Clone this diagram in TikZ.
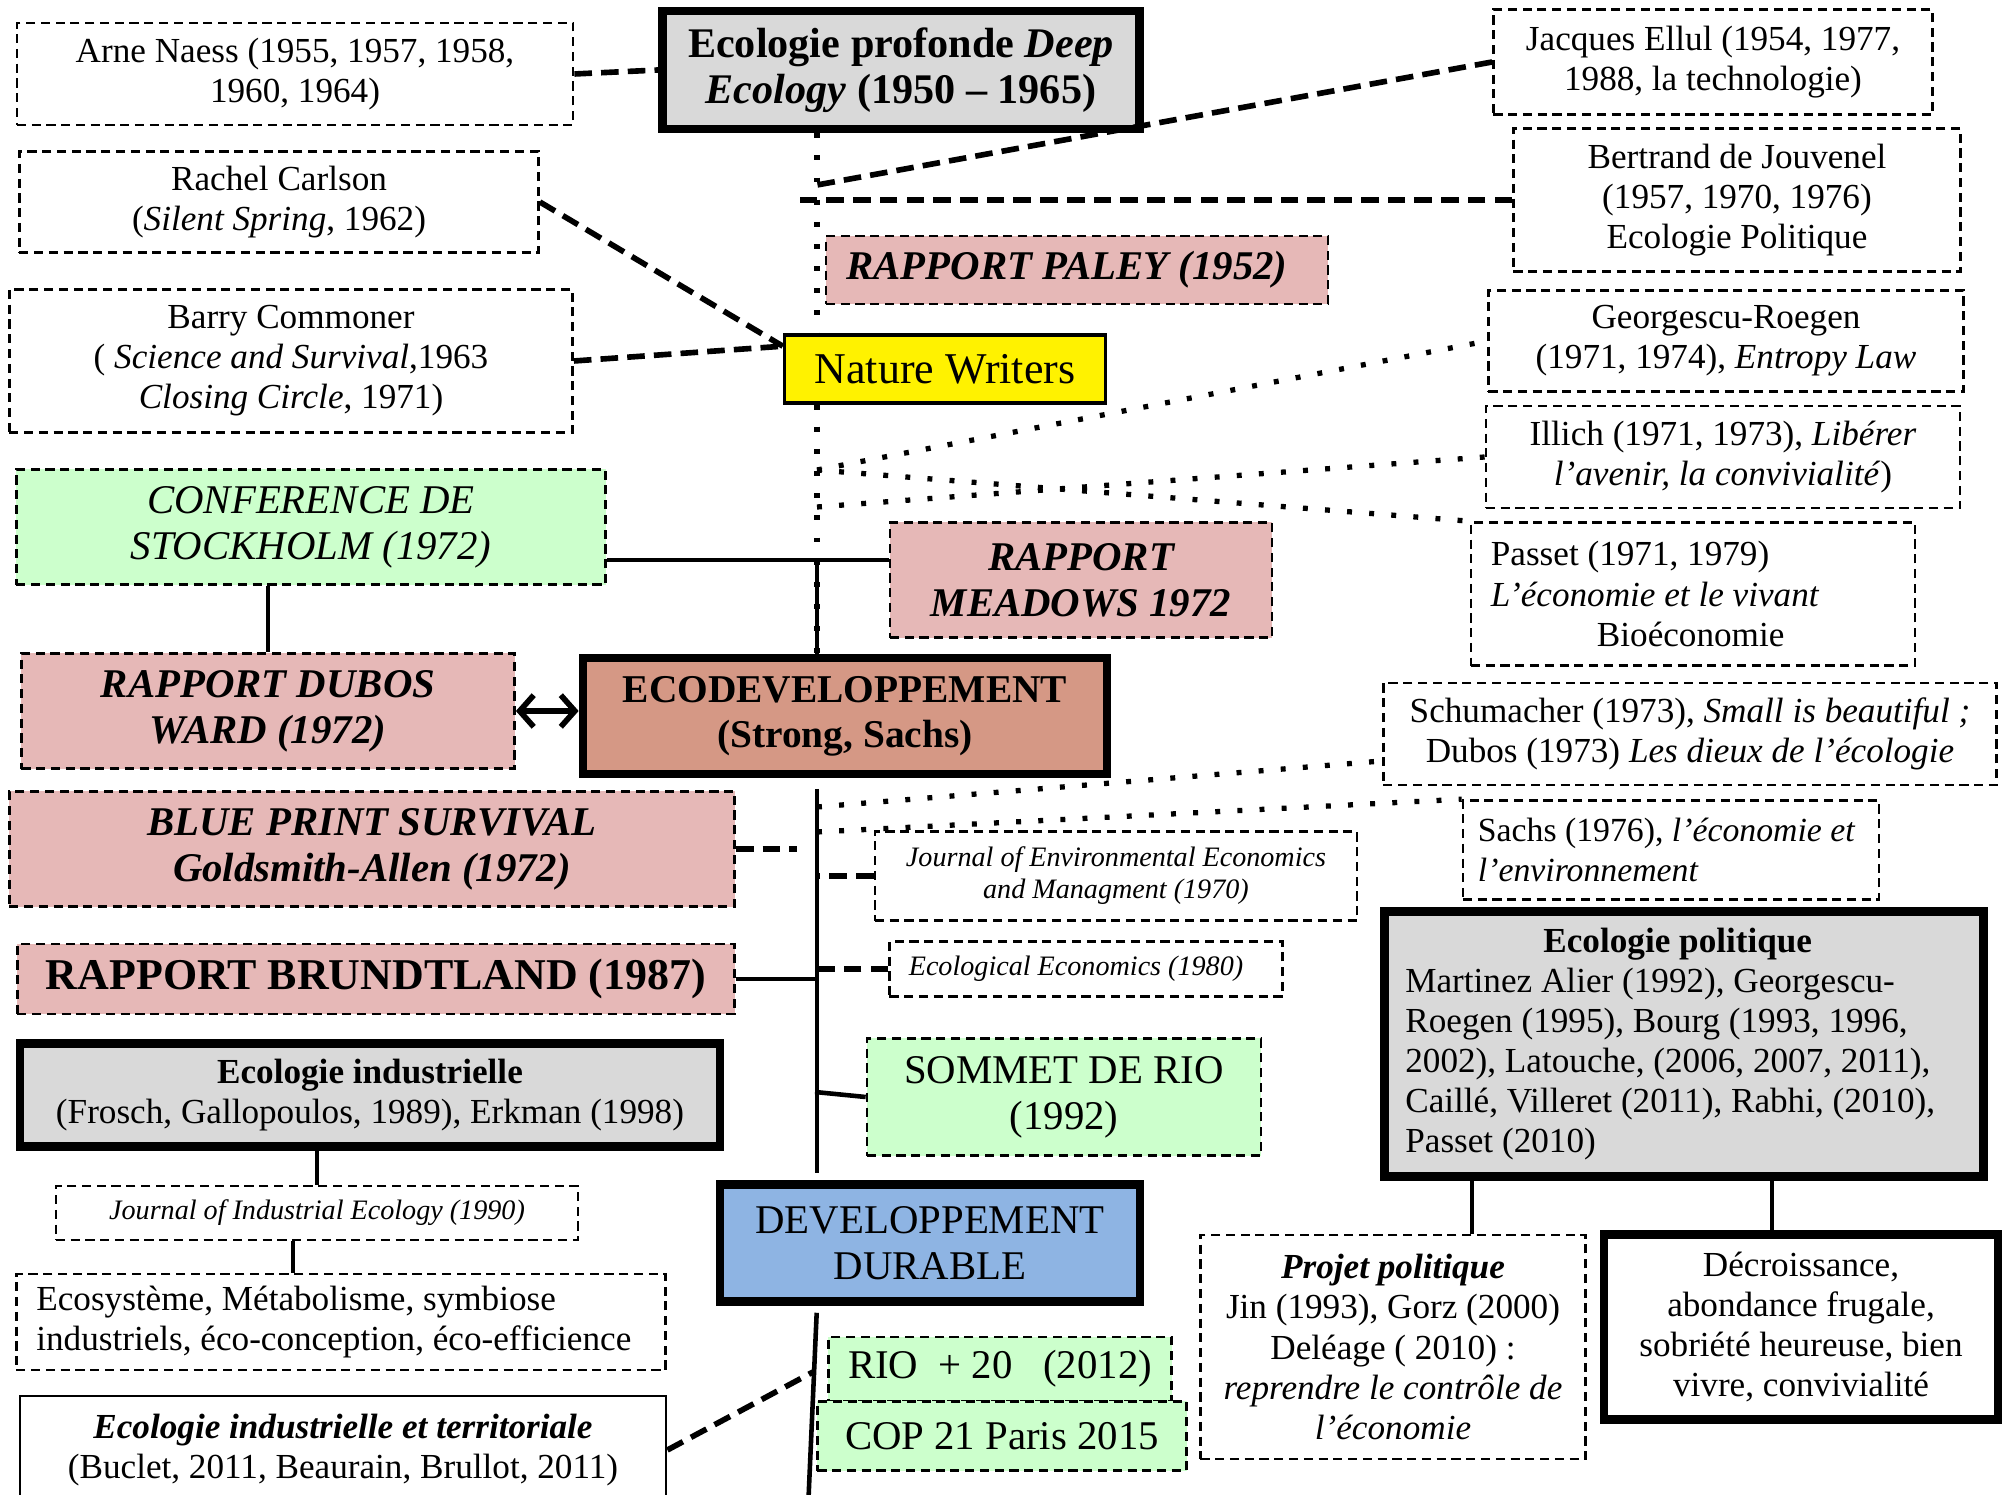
\documentclass[tikz,border=0pt]{standalone}
\usepackage{fontspec}
\setmainfont{Liberation Serif}
\usepackage{tikz}
\usetikzlibrary{arrows.meta}

\definecolor{rosecol}{RGB}{230,184,183}
\definecolor{vertcol}{RGB}{204,255,204}
\definecolor{griscol}{RGB}{217,217,217}
\definecolor{briquecol}{RGB}{213,152,133}
\definecolor{bleucol}{RGB}{142,180,227}

\begin{document}
\begin{tikzpicture}[x=0.01cm, y=-0.01cm,
    every node/.style={align=center, inner sep=0pt, font=\fontsize{10}{11.4}\selectfont},
    box/.style={draw, dash pattern=on 2.6pt off 1.6pt, line width=0.7pt, fill=white},
    heavy/.style={draw, line width=2.4pt},
    rapport/.style={box, fill=rosecol, font=\fontsize{11.6}{13.1}\selectfont\bfseries\itshape},
    sommet/.style={box, fill=vertcol, font=\fontsize{11.6}{13.1}\selectfont},
    journal/.style={box, font=\fontsize{8}{9.1}\selectfont\itshape},
    dashlink/.style={line width=1.6pt, dash pattern=on 5pt off 2.6pt},
    dotlink/.style={line width=1.5pt, dash pattern=on 1.4pt off 4.9pt},
    link/.style={line width=1.3pt}]
\useasboundingbox (0,0) rectangle (2002,1495);

% HAUT : ECOLOGIE PROFONDE
\node[box, minimum width=5.56cm, minimum height=1.02cm] (naess) at (295,74) {Arne Naess (1955, 1957, 1958,\\ 1960, 1964)};
\node[heavy, fill=griscol, minimum width=4.77cm, minimum height=1.18cm, font=\fontsize{12}{13.1}\selectfont\bfseries] (profonde) at (901,70) {Ecologie profonde \textit{Deep}\\ \textit{Ecology} (1950 – 1965)};
\node[box, minimum width=4.39cm, minimum height=1.05cm] (ellul) at (1713,62) {Jacques Ellul (1954, 1977,\\ 1988, la technologie)};
\node[box, minimum width=5.19cm, minimum height=1.01cm] (carson) at (279,202) {Rachel Carlson\\ (\textit{Silent Spring}, 1962)};
\node[box, minimum width=4.47cm, minimum height=1.43cm] (jouvenel) at (1737,200) {Bertrand de Jouvenel\\ (1957, 1970, 1976)\\ Ecologie Politique};
\node[rapport, minimum width=5.02cm, minimum height=0.68cm] (paley) at (1077,270) {RAPPORT PALEY (1952)\hspace*{0.2cm}};
\node[box, minimum width=5.63cm, minimum height=1.43cm] (commoner) at (291,361) {Barry Commoner\\ ( \textit{Science and Survival},1963\\ \textit{Closing Circle}, 1971)};
\node[draw, line width=0.9pt, fill=yellow, minimum width=3.21cm, minimum height=0.68cm, font=\fontsize{12.5}{14}\selectfont] (writers) at (945,369) {Nature Writers};
\node[box, minimum width=4.75cm, minimum height=1.01cm] (georgescu) at (1726,341) {Georgescu-Roegen\\ (1971, 1974), \textit{Entropy Law}};
\node[box, minimum width=4.74cm, minimum height=1.02cm] (illich) at (1723,457) {Illich (1971, 1973), \textit{Libérer}\\ \textit{l’avenir, la convivialité})};

% MILIEU : ECODEVELOPPEMENT
\node[sommet, minimum width=5.89cm, minimum height=1.15cm, font=\fontsize{11.6}{13.1}\selectfont\itshape] (stockholm) at (311,527) {CONFERENCE DE\\ STOCKHOLM (1972)};
\node[rapport, minimum width=3.82cm, minimum height=1.15cm] (meadows) at (1081,580) {RAPPORT\\ MEADOWS 1972};
\node[box, align=flush left, text width=4.04cm, minimum width=4.44cm, minimum height=1.43cm] (passet) at (1693,594) {Passet (1971, 1979)\\ \textit{L’économie et le vivant}\\ \hspace*{1.06cm}Bioéconomie};
\node[rapport, minimum width=4.93cm, minimum height=1.15cm] (dubos) at (268,711) {RAPPORT DUBOS\\ WARD (1972)};
\node[heavy, fill=briquecol, minimum width=5.24cm, minimum height=1.16cm, font=\fontsize{11.2}{12.7}\selectfont\bfseries] (ecodev) at (845,716) {ECODEVELOPPEMENT\\ (Strong, Sachs)};
\node[box, minimum width=6.13cm, minimum height=1.02cm] (schumacher) at (1690,734) {Schumacher (1973), \textit{Small is beautiful ;}\\ Dubos (1973) \textit{Les dieux de l’écologie}};
\node[rapport, minimum width=7.25cm, minimum height=1.15cm] (blueprint) at (372,849) {BLUE PRINT SURVIVAL\\ Goldsmith-Allen (1972)};
\node[box, align=flush left, text width=3.86cm, minimum width=4.16cm, minimum height=0.99cm, font=\fontsize{9.6}{11.4}\selectfont] (sachs) at (1671,850) {Sachs (1976), \textit{l’économie et}\\ \textit{l’environnement}};
\node[journal, minimum width=4.82cm, minimum height=0.89cm] (jeem) at (1116,876) {Journal of Environmental Economics\\ and Managment (1970)};
\node[box, fill=rosecol, minimum width=7.17cm, minimum height=0.70cm, font=\fontsize{12.5}{14}\selectfont\bfseries] (brundtland) at (376,979) {RAPPORT BRUNDTLAND (1987)};
\node[journal, minimum width=3.93cm, minimum height=0.55cm] (ecoeco) at (1086,969) {Ecological Economics (1980)\hspace*{0.2cm}};
\node[heavy, fill=griscol, align=flush left, text width=5.57cm, minimum width=5.99cm, minimum height=2.65cm] (ecopol) at (1684,1044) {\hspace*{1.38cm}\textbf{Ecologie politique}\\ Martinez Alier (1992), Georgescu-\\ Roegen (1995), Bourg (1993, 1996,\\ 2002), Latouche, (2006, 2007, 2011),\\ Caillé, Villeret (2011), Rabhi, (2010),\\ Passet (2010)};

% BAS : DEVELOPPEMENT DURABLE
\node[heavy, fill=griscol, minimum width=7.0cm, minimum height=1.03cm] (ecoind) at (370,1095) {\textbf{Ecologie industrielle}\\ (Frosch, Gallopoulos, 1989), Erkman (1998)};
\node[sommet, minimum width=3.94cm, minimum height=1.17cm] (rio) at (1064,1097) {SOMMET DE RIO\\ (1992)};
\node[journal, minimum width=5.22cm, minimum height=0.54cm] (jie) at (317,1213) {Journal of Industrial Ecology (1990)};
\node[heavy, fill=bleucol, minimum width=4.2cm, minimum height=1.17cm, font=\fontsize{11.6}{13.1}\selectfont] (durable) at (930,1243) {DEVELOPPEMENT\\ DURABLE};
\node[box, minimum width=3.85cm, minimum height=2.24cm] (projet) at (1393,1347) {\textbf{\textit{Projet politique}}\\ Jin (1993), Gorz (2000)\\ Deléage ( 2010) :\\ \textit{reprendre le contrôle de}\\ \textit{l’économie}};
\node[heavy, fill=white, minimum width=3.94cm, minimum height=1.85cm] (decroissance) at (1801,1327) {Décroissance,\\ abondance frugale,\\ sobriété heureuse, bien\\ vivre, convivialité};
\node[box, align=flush left, text width=6.09cm, minimum width=6.49cm, minimum height=0.96cm] (ecosysteme) at (341,1322) {Ecosystème, Métabolisme, symbiose\\ industriels, éco-conception, éco-efficience};
\node[sommet, minimum width=3.43cm, minimum height=0.64cm] (rio20) at (1000,1369) {RIO\ \ + 20\ \ \ (2012)};
\node[sommet, minimum width=3.69cm, minimum height=0.69cm] (cop) at (1002,1436) {COP 21 Paris 2015};
\node[draw, line width=0.7pt, fill=white, minimum width=6.46cm, minimum height=1.08cm] (territoriale) at (343,1450) {\textbf{\textit{Ecologie industrielle et territoriale}}\\ (Buclet, 2011, Beaurain, Brullot, 2011)};

% AXE CENTRAL
\coordinate (spine) at (817,0);
\coordinate (jEllul) at (817,185);
\coordinate (jJouvenel) at (798,198);
\coordinate (jA) at (817,470);
\coordinate (jB) at (817,507);
\coordinate (jC) at (817,560);
\coordinate (jS) at (817,807);
\coordinate (jT) at (817,832);
\coordinate (bpEnd) at (797,849);
\coordinate (jRio) at (815,1092);
\coordinate (jL) at (813,1372);
\coordinate (spEnd) at (808,1510);

\draw[dotlink] (spine |- profonde.south) -- (spine |- writers.north);
\draw[dotlink] (spine |- writers.south) -- (spine |- ecodev.north);
\draw[link] (jC) -- (spine |- ecodev.north);
\draw[link, shorten <=3pt, shorten >=2pt] (spine |- ecodev.south) -- (spine |- durable.north);
\draw[link, shorten <=2pt] (spine |- durable.south) -- (spEnd);

% liens du haut
\draw[dashlink] (naess.east) -- (profonde.west);
\draw[dashlink] (carson.east) -- (writers.172);
\draw[dashlink] (commoner.east) -- (writers.172);
\draw[dashlink] (ellul.west) -- (jEllul);
\draw[dashlink] (jouvenel.west) -- (jouvenel.west -| jJouvenel);
\draw[dotlink] (jA) -- (georgescu.west);
\draw[dotlink] (jA) -- (passet.north west);
\draw[dotlink] (jB) -- (illich.west);

% liens du milieu
\draw[link] (stockholm.east |- jC) -- (jC) -- (meadows.west |- jC);
\draw[link] (dubos.north |- stockholm.south) -- (dubos.north);
\draw[link, line width=1.6pt, {Straight Barb[length=4pt,width=9pt]}-{Straight Barb[length=4pt,width=9pt]}] (dubos.east) -- (dubos.east -| ecodev.west);
\draw[dotlink] (jS) -- (schumacher.185);
\draw[dotlink] (jT) -- (sachs.north west);
\draw[dashlink] (blueprint.east) -- (blueprint.east -| bpEnd);
\draw[dashlink] (jeem.west) -- (jeem.west -| spine);
\draw[dashlink] (ecoeco.west) -- (ecoeco.west -| spine);
\draw[link] (brundtland.east) -- (brundtland.east -| spine);
\draw[link] (jRio) -- (rio.west);

% liens du bas
\draw[link] (jie.north |- ecoind.south) -- (jie.north);
\draw[link] ([xshift=-0.24cm]jie.south) -- ([xshift=-0.24cm]jie.south |- ecosysteme.north);
\draw[dashlink] (territoriale.east) -- (jL);
\draw[link] ([xshift=0.79cm]projet.north |- ecopol.south) -- ([xshift=0.79cm]projet.north);
\draw[link] ([xshift=-0.29cm]decroissance.north |- ecopol.south) -- ([xshift=-0.29cm]decroissance.north);
\end{tikzpicture}
\end{document}
